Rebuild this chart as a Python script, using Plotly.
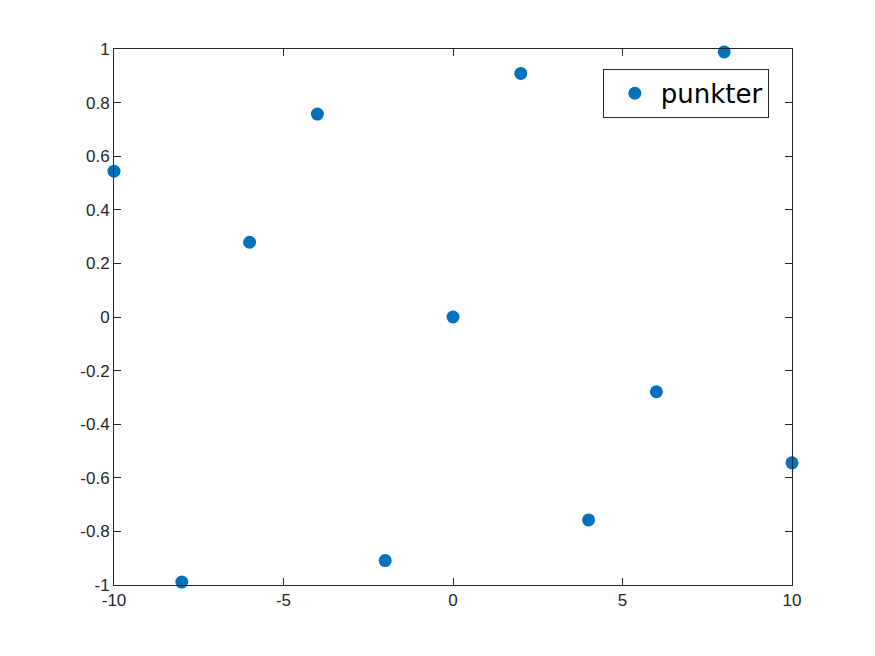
import plotly.graph_objects as go

x_vals = [-10, -8, -6, -4, -2, 0, 2, 4, 6, 8, 10]
y_vals = [0.544, -0.989, 0.279, 0.757, -0.909, 0.0, 0.909, -0.757, -0.279, 0.989, -0.544]
series_name = "punkter"

x_ticks = [-10, -5, 0, 5, 10]
x_ticktext = ["-10", "-5", "0", "5", "10"]
y_ticks = [-1, -0.8, -0.6, -0.4, -0.2, 0, 0.2, 0.4, 0.6, 0.8, 1]
y_ticktext = ["-1", "-0.8", "-0.6", "-0.4", "-0.2", "0", "0.2", "0.4", "0.6", "0.8", "1"]

axis_color = "#262626"

fig = go.Figure()
fig.add_trace(go.Scatter(
    x=x_vals, y=y_vals, mode="markers", name=series_name,
    marker=dict(color="#0072BD", size=13, line=dict(width=0)),
    cliponaxis=False,
))

common = dict(
    showgrid=False, zeroline=False, showline=True, linecolor=axis_color, linewidth=1,
    mirror="ticks", ticks="inside", ticklen=7, tickcolor=axis_color,
    tickfont=dict(family="Liberation Sans, Arial", size=17, color=axis_color),
)
fig.update_xaxes(range=[-10, 10], tickvals=x_ticks, ticktext=x_ticktext, **common)
fig.update_yaxes(range=[-1, 1], tickvals=y_ticks, ticktext=y_ticktext, **common)

fig.update_layout(
    width=867, height=648,
    margin=dict(l=106, r=83, t=41, b=71),
    plot_bgcolor="white", paper_bgcolor="white",
    showlegend=True,
    legend=dict(
        x=0.721, y=0.963, xanchor="left", yanchor="top",
        bordercolor=axis_color, borderwidth=1, bgcolor="white",
        font=dict(family="DejaVu Sans", size=26, color="black"),
        itemwidth=42, indentation=5,
    ),
)

fig.write_html("out.html")
